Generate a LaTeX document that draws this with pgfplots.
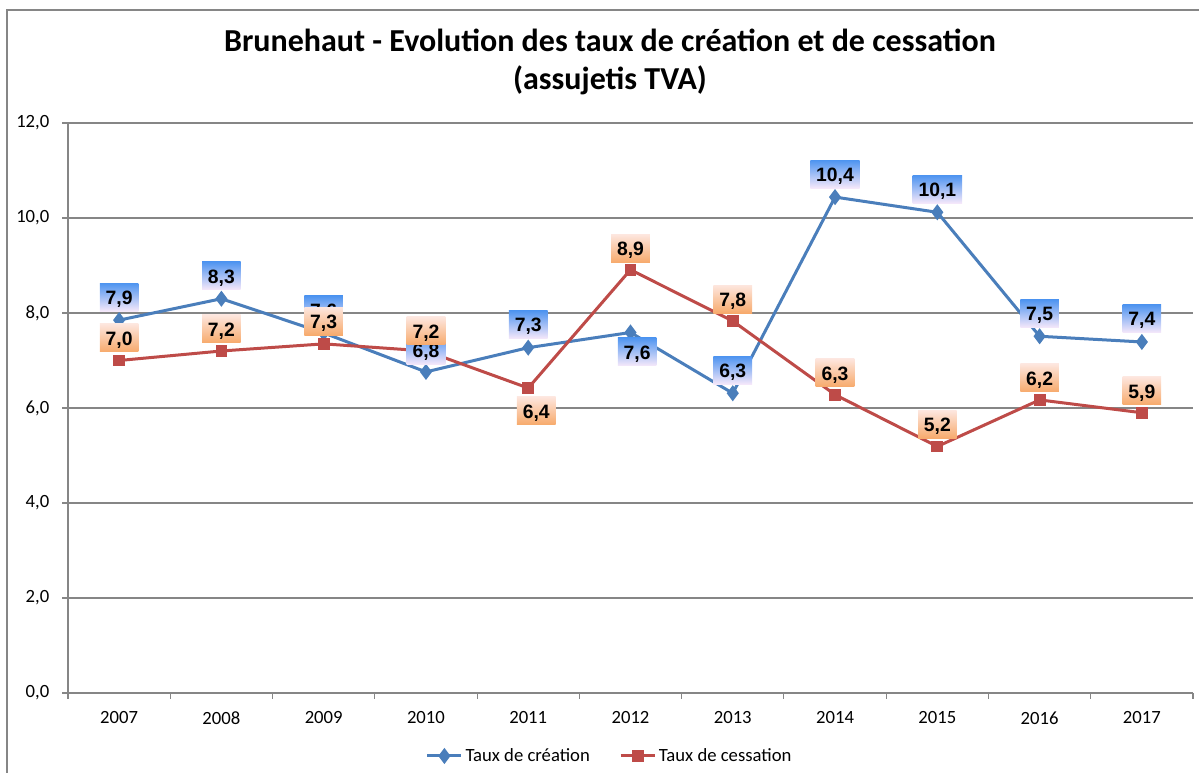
\documentclass[border=0pt]{standalone}
\usepackage{pgfplots}
\pgfplotsset{compat=1.18}
\usepackage{pgfplotstable}
\usepackage{fontspec}
\setmainfont{Carlito}
\newfontfamily\labelfont{Liberation Sans}

\definecolor{creation}{RGB}{74,126,187}
\definecolor{cessation}{RGB}{190,75,72}
\definecolor{gridgray}{RGB}{134,134,134}
\definecolor{bluetop}{RGB}{78,148,240}
\definecolor{bluebot}{RGB}{246,232,250}
\definecolor{orgtop}{RGB}{253,230,222}
\definecolor{orgbot}{RGB}{247,170,108}

% x: category index (2007 = 0), sh/dx: label offset in pt
\pgfplotstableread{
x y lbl sh dx
0 7.85 7.9 17.25 0
1 8.30 8.3 17.25 0
2 7.58 7.6 17.25 0
3 6.76 6.8 16 0
4 7.27 7.3 17.25 0
5 7.59 7.6 -14.5 5
6 6.31 6.3 17.25 0
7 10.44 10.4 17.25 0
8 10.12 10.1 17.25 0
9 7.51 7.5 17 0
10 7.39 7.4 17.5 0
}\creation

\pgfplotstableread{
x y lbl sh dx
0 7.00 7.0 17 0
1 7.20 7.2 16.5 0
2 7.35 7.3 17 0
3 7.20 7.2 15 0
4 6.42 6.4 -17 6
5 8.91 8.9 16 0
6 7.83 7.8 16.5 0
7 6.28 6.3 16.5 0
8 5.19 5.2 16.5 0
9 6.17 6.2 16.5 0
10 5.90 5.9 16.5 0
}\cessation

\pgfplotsset{
  labelbox/.style={
    nodes near coords={\pgfmathprintnumber[fixed,fixed zerofill,precision=1,use comma]{\pgfplotspointmeta}},
    point meta=explicit,
    visualization depends on={\thisrow{sh}\as\lsh},
    visualization depends on={\thisrow{dx}\as\ldx},
    nodes near coords style={anchor=center, yshift=\lsh*1pt, xshift=\ldx*1pt,
      font=\labelfont\bfseries\fontsize{14.5}{16}\selectfont, text=black,
      inner xsep=4.4pt, inner ysep=0pt, minimum height=21pt,
      text height=11pt, text depth=0pt, shading angle=0, #1},
  },
}

\begin{document}
\begin{tikzpicture}
\useasboundingbox (-51pt,-60pt) rectangle (848.25pt,519.75pt);
\draw[gridgray, line width=1.1pt] (860pt,512.25pt) -- (-45.75pt,512.25pt) -- (-45.75pt,-80pt);
\begin{axis}[
  at={(0pt,0pt)}, anchor=south west,
  scale only axis,
  width=843.75pt, height=427.5pt,
  xmin=-0.5, xmax=10.5,
  ymin=0, ymax=12,
  xtick={0,...,10},
  xticklabels={2007,2008,2009,2010,2011,2012,2013,2014,2015,2016,2017},
  minor xtick={-0.5,0.5,...,10.5},
  ytick={0,2,...,12},
  axis x line*=bottom, axis y line*=left,
  axis line style={gridgray, line width=0.8pt},
  tick align=outside,
  major tick length=4.5pt, minor tick length=4.5pt,
  major x tick style={draw=none},
  minor tick style={gridgray, line width=0.8pt},
  major tick style={gridgray, line width=0.8pt},
  ymajorgrids=true,
  major grid style={gridgray, line width=0.8pt},
  ticklabel style={font=\fontsize{14}{16}\selectfont},
  xticklabel style={yshift=-6pt},
  yticklabel style={xshift=-6pt},
  /pgf/number format/assume math mode=true,
  yticklabel={\pgfmathprintnumber[fixed,fixed zerofill,precision=1,use comma]{\tick}},
  legend style={at={(0.4818,-0.1105)}, anchor=center, draw=none,
    font=\fontsize{14}{16}\selectfont, inner sep=0pt,
    /tikz/every even column/.append style={column sep=20pt}},
  legend columns=2,
  legend cell align=left,
  legend image code/.code={\draw[mark repeat=2,mark phase=2,#1] plot coordinates {(0pt,0pt) (12.75pt,0pt) (25.5pt,0pt)};},
  clip=false,
]
\addplot[creation, line width=2.25pt, mark=diamond*, mark size=4.2pt, mark options={solid}]
  table[x=x, y=y] {\creation};
\addlegendentry{Taux de création}
\addplot[cessation, line width=2.25pt, mark=square*, mark size=3.3pt, mark options={solid}]
  table[x=x, y=y] {\cessation};
\addlegendentry{Taux de cessation}

\addplot[draw=none, mark=none, forget plot, labelbox={top color=bluetop, bottom color=bluebot}]
  table[x=x, y=y, meta=lbl] {\creation};
\addplot[draw=none, mark=none, forget plot, labelbox={top color=orgtop, bottom color=orgbot}]
  table[x=x, y=y, meta=lbl] {\cessation};
\end{axis}
\node[anchor=base, font=\bfseries\fontsize{24}{28}\selectfont] at (406.5pt,480.75pt)
  {Brunehaut - Evolution des taux de création et de cessation};
\node[anchor=base, font=\bfseries\fontsize{24}{28}\selectfont] at (406.5pt,452.25pt)
  {(assujetis TVA)};
\end{tikzpicture}
\end{document}
